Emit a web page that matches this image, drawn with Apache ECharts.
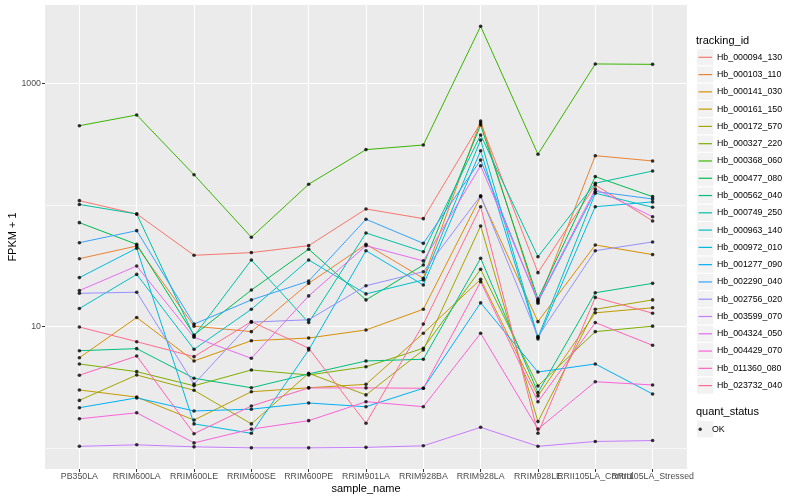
<!DOCTYPE html>
<html><head><meta charset="utf-8">
<script src="https://cdn.jsdelivr.net/npm/echarts@6/dist/echarts.min.js"></script>
<style>html,body{margin:0;padding:0;background:#fff}#c{width:800px;height:500px}</style>
</head><body><div id="c"></div>
<script>
// ---- data (FPKM + 1) ----
const categories = ["PB350LA","RRIM600LA","RRIM600LE","RRIM600SE","RRIM600PE","RRIM901LA","RRIM928BA","RRIM928LA","RRIM928LE","RRII105LA_Control","RRII105LA_Stressed"];
const trackingIds = ["Hb_000094_130","Hb_000103_110","Hb_000141_030","Hb_000161_150","Hb_000172_570","Hb_000327_220","Hb_000368_060","Hb_000477_080","Hb_000562_040","Hb_000749_250","Hb_000963_140","Hb_000972_010","Hb_001277_090","Hb_002290_040","Hb_002756_020","Hb_003599_070","Hb_004324_050","Hb_004429_070","Hb_011360_080","Hb_023732_040"];
const hb_000094_130 = [108.5, 84.3, 38.6, 40.6, 46.3, 92.7, 77.2, 472, 27.8, 146, 73.9];
const hb_000103_110 = [36.2, 46.0, 10.1, 9.10, 22.7, 47.5, 25.0, 490, 15.6, 254, 230];
const hb_000141_030 = [5.56, 11.9, 5.23, 7.67, 8.07, 9.40, 13.9, 117, 11.0, 46.9, 39.1];
const hb_000161_150 = [3.02, 2.64, 1.71, 2.92, 3.15, 3.36, 8.83, 24.5, 2.70, 13.0, 14.3];
const hb_000172_570 = [2.48, 4.01, 3.00, 1.59, 4.14, 2.75, 6.43, 67.2, 1.66, 13.9, 16.6];
const hb_000327_220 = [4.94, 4.27, 3.27, 4.41, 4.01, 4.69, 6.65, 29.6, 3.26, 9.10, 10.1];
const hb_000368_060 = [448, 549, 177, 54.3, 148, 285, 311, 2940, 261, 1441, 1430];
const hb_000477_080 = [71.6, 47.5, 8.55, 20.0, 43.3, 16.6, 32.1, 454, 16.9, 171, 117];
const hb_000562_040 = [6.35, 6.60, 3.77, 3.15, 4.09, 5.23, 5.40, 36.5, 2.87, 19.0, 22.7];
const hb_000749_250 = [101, 84.3, 8.39, 35.3, 10.8, 58.9, 41.3, 376, 37.6, 151, 190];
const hb_000963_140 = [14.1, 26.9, 6.52, 13.9, 35.3, 18.6, 24.2, 342, 8.15, 125, 95.7];
const hb_000972_010 = [25.3, 44.1, 1.59, 1.33, 6.43, 42.1, 22.0, 279, 7.92, 96.8, 106];
const hb_001277_090 = [2.16, 2.60, 2.03, 2.10, 2.36, 2.20, 3.12, 15.7, 4.24, 4.94, 2.80];
const hb_002290_040 = [49.0, 61.5, 10.5, 16.6, 23.7, 76.3, 48.4, 234, 16.0, 129, 112];
const hb_002756_020 = [18.8, 19.2, 3.38, 10.9, 11.4, 21.7, 28.3, 119, 8.28, 42.1, 49.7];
const hb_003599_070 = [1.04, 1.07, 1.03, 1.01, 1.01, 1.02, 1.05, 1.49, 1.04, 1.14, 1.16];
const hb_004324_050 = [19.8, 31.5, 8.18, 5.50, 17.9, 46.3, 34.7, 210, 16.4, 135, 80.1];
const hb_004429_070 = [1.75, 1.96, 1.11, 1.44, 1.69, 2.42, 2.20, 8.83, 1.44, 3.53, 3.32];
const hb_011360_080 = [3.99, 5.74, 1.32, 2.23, 3.14, 3.14, 3.12, 23.4, 2.42, 10.8, 7.03];
const hb_023732_040 = [9.94, 7.53, 5.67, 11.0, 6.65, 1.61, 10.5, 96.8, 1.33, 17.4, 12.9];
const majorTicks = [10, 1000];
const minorTicks = [1, 100];
const statusLabels = ["OK"];

// ---- styling ----
const seriesValues = [hb_000094_130,hb_000103_110,hb_000141_030,hb_000161_150,hb_000172_570,hb_000327_220,hb_000368_060,hb_000477_080,hb_000562_040,hb_000749_250,hb_000963_140,hb_000972_010,hb_001277_090,hb_002290_040,hb_002756_020,hb_003599_070,hb_004324_050,hb_004429_070,hb_011360_080,hb_023732_040];
const palette = ["#F8766D","#EA8331","#D89000","#C09B00","#A3A500","#7CAE00","#39B600","#00BB4E","#00BF7D","#00C1A3","#00BFC4","#00BAE0","#00B0F6","#35A2FF","#9590FF","#C77CFF","#E76BF3","#FA62DB","#FF62BC","#FF6C91"];
const FF = "Liberation Sans, Arial, Helvetica, sans-serif";
const lg = v => Math.log10(v);
const yMin = -0.1693, yMax = 3.643;
const keyStep = 17.28, keyTop = 48.66, keyLeft = 696.5;
const catIdx = categories.map((_, i) => i);
const evenIdx = catIdx.filter(i => i % 2 === 0);
const oddIdx = catIdx.filter(i => i % 2 === 1);

const lineSeries = seriesValues.map((vals, k) => ({
  type: 'line', name: trackingIds[k],
  data: vals.map((v, i) => [i, lg(v)]),
  symbol: 'none', silent: true,
  lineStyle: {width: 1, color: palette[k]},
  itemStyle: {color: palette[k]},
  emphasis: {disabled: true}
}));
const pointData = [];
seriesValues.forEach(vals => vals.forEach((v, i) => pointData.push([i, lg(v)])));

const graphics = trackingIds.map((_, i) => ({
  type: 'rect', z: 0,
  shape: {x: keyLeft, y: keyTop + i * keyStep, width: keyStep, height: keyStep},
  style: {fill: '#F2F2F2', stroke: '#fff', lineWidth: 1}
}));
graphics.push({type: 'rect', z: 0,
  shape: {x: keyLeft, y: 420.66, width: keyStep, height: keyStep},
  style: {fill: '#F2F2F2', stroke: '#fff', lineWidth: 1}});

const xLabelStyle = {formatter: v => categories[Math.round(v)], fontSize: 8.8, color: '#4D4D4D', margin: 3, fontFamily: FF,
  hideOverlap: false, showMinLabel: true, showMaxLabel: true};

const chart = echarts.init(document.getElementById('c'), null, {renderer: 'canvas'});
chart.setOption({
  animation: false,
  textStyle: {fontFamily: FF},
  title: [
    {text: 'tracking_id', left: 696, top: 35.5, padding: 0, textStyle: {fontSize: 11, fontWeight: 'normal', color: '#000', fontFamily: FF}},
    {text: 'quant_status', left: 696, top: 406.8, padding: 0, textStyle: {fontSize: 11, fontWeight: 'normal', color: '#000', fontFamily: FF}}
  ],
  grid: {left: 45, right: 113, top: 5, bottom: 31, show: true, backgroundColor: '#EBEBEB', borderWidth: 0,
    containLabel: false, outerBoundsMode: 'none'},
  xAxis: [{
    type: 'value', min: -0.6, max: 10.6, position: 'bottom',
    axisLine: {show: false, onZero: false},
    axisTick: {customValues: catIdx, length: 3, lineStyle: {color: '#333', width: 1}},
    axisLabel: Object.assign({customValues: evenIdx}, xLabelStyle),
    splitLine: {show: true, lineStyle: {color: '#fff', width: 1.1}},
    name: 'sample_name', nameLocation: 'middle', nameGap: 14.5, nameMoveOverlap: false,
    nameTextStyle: {fontSize: 11, color: '#000', fontFamily: FF}
  }, {
    type: 'value', min: -0.6, max: 10.6, position: 'bottom', offset: 0,
    axisLine: {show: false, onZero: false},
    axisTick: {show: false, customValues: oddIdx},
    axisLabel: Object.assign({customValues: oddIdx}, xLabelStyle),
    splitLine: {show: false}
  }],
  yAxis: [{
    type: 'value', min: yMin, max: yMax, position: 'left',
    axisLine: {show: false, onZero: false},
    axisTick: {customValues: majorTicks.map(lg), length: 3, lineStyle: {color: '#333', width: 1}},
    axisLabel: {customValues: majorTicks.map(lg), formatter: v => String(Math.round(Math.pow(10, v))), fontSize: 8.8, color: '#4D4D4D', margin: 4, fontFamily: FF,
      showMinLabel: true, showMaxLabel: true},
    splitLine: {show: true, lineStyle: {color: '#fff', width: 1.1}},
    name: 'FPKM + 1', nameLocation: 'middle', nameGap: 27, nameMoveOverlap: false,
    nameTextStyle: {fontSize: 11, color: '#000', fontFamily: FF}
  }, {
    type: 'value', min: yMin, max: yMax, position: 'right',
    axisLine: {show: false, onZero: false},
    axisTick: {show: false, customValues: minorTicks.map(lg)},
    axisLabel: {show: false, customValues: minorTicks.map(lg)},
    splitLine: {show: true, lineStyle: {color: '#fff', width: 0.55}}
  }],
  legend: [{
    data: trackingIds, orient: 'vertical', left: 698.5, top: keyTop, padding: 0,
    itemGap: 0, itemWidth: 13.5, itemHeight: 1.2, icon: 'rect', selectedMode: false,
    textStyle: {fontSize: 8.8, color: '#000', lineHeight: keyStep, fontFamily: FF}
  }, {
    data: statusLabels, orient: 'vertical', left: 698.5, top: 420.66, padding: 0,
    itemGap: 0, itemWidth: 13.5, itemHeight: 3.4, icon: 'circle', selectedMode: false,
    textStyle: {fontSize: 8.8, color: '#000', lineHeight: keyStep, fontFamily: FF}
  }],
  graphic: graphics,
  series: lineSeries.concat([{
    type: 'scatter', name: statusLabels[0], data: pointData, symbol: 'circle', symbolSize: 3.6,
    itemStyle: {color: '#000'}, silent: true, emphasis: {disabled: true}, z: 3
  }])
});
</script></body></html>
